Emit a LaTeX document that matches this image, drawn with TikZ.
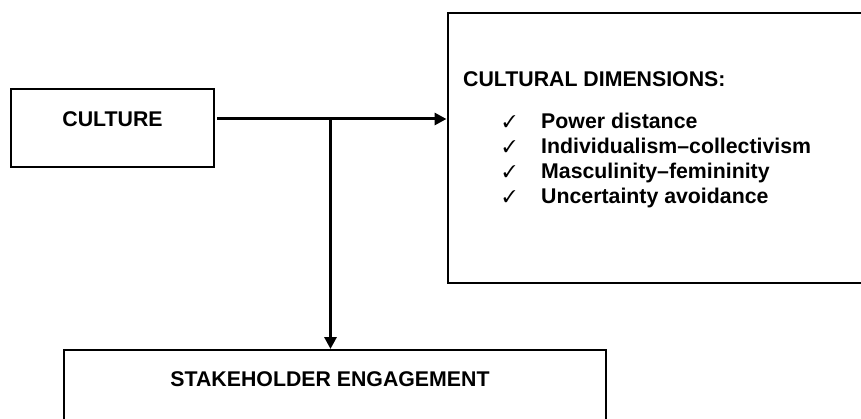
\documentclass[tikz,border=0pt]{standalone}
\usepackage{fontspec}
\setmainfont{Liberation Sans}
\usepackage{pifont}
\usetikzlibrary{arrows.meta}

\tikzset{box/.style={rectangle, draw, line width=2pt, inner sep=0pt},
	txt/.style={anchor=base west, inner sep=0pt, font=\fontsize{21.3}{25}\selectfont\bfseries},
	tick/.style={anchor=base west, inner sep=0pt, font=\fontsize{17}{20}\selectfont},
	link/.style={line width=3pt, -{Triangle[length=12pt, width=12pt]}}}

\begin{document}
\begin{tikzpicture}[x=1pt, y=-1pt]
		\clip (0,0) rectangle (861,419);
		\fill[white] (0,0) rectangle (861,419);
		
		\node[box, anchor=north, minimum width=203pt, text height=15pt, text depth=17pt, inner ysep=23pt, font=\fontsize{21.3}{25}\selectfont\bfseries] (culture) at (112.5,88) {CULTURE};
		\node[box, anchor=north west, minimum width=460pt, minimum height=270pt] (dims) at (446.5,12) {};
		\node[box, anchor=north west, minimum width=542pt, minimum height=120pt] (engage) at (62.5,349) {};
		
		\node[txt] (title) at (463,87) {CULTURAL DIMENSIONS:};
		\node[tick] (t1) at (503,128) {\ding{51}};
		\node[txt] (d1) at (541,129) {Power distance};
		\node[tick] (t2) at (503,153) {\ding{51}};
		\node[txt] (d2) at (541,154) {Individualism–collectivism};
		\node[tick] (t3) at (503,178) {\ding{51}};
		\node[txt] (d3) at (541,179) {Masculinity–femininity};
		\node[tick] (t4) at (503,203) {\ding{51}};
		\node[txt] (d4) at (541,204) {Uncertainty avoidance};
		\node[txt, anchor=base] (stake) at (330,386.5) {STAKEHOLDER ENGAGEMENT};
		
		\coordinate (split) at (330.5,119);
		\draw[link, shorten <=2pt] (culture.east |- split) -- (dims.west |- split);
		\draw[link] (split) -- (split |- engage.north);
	\end{tikzpicture}
\end{document}
